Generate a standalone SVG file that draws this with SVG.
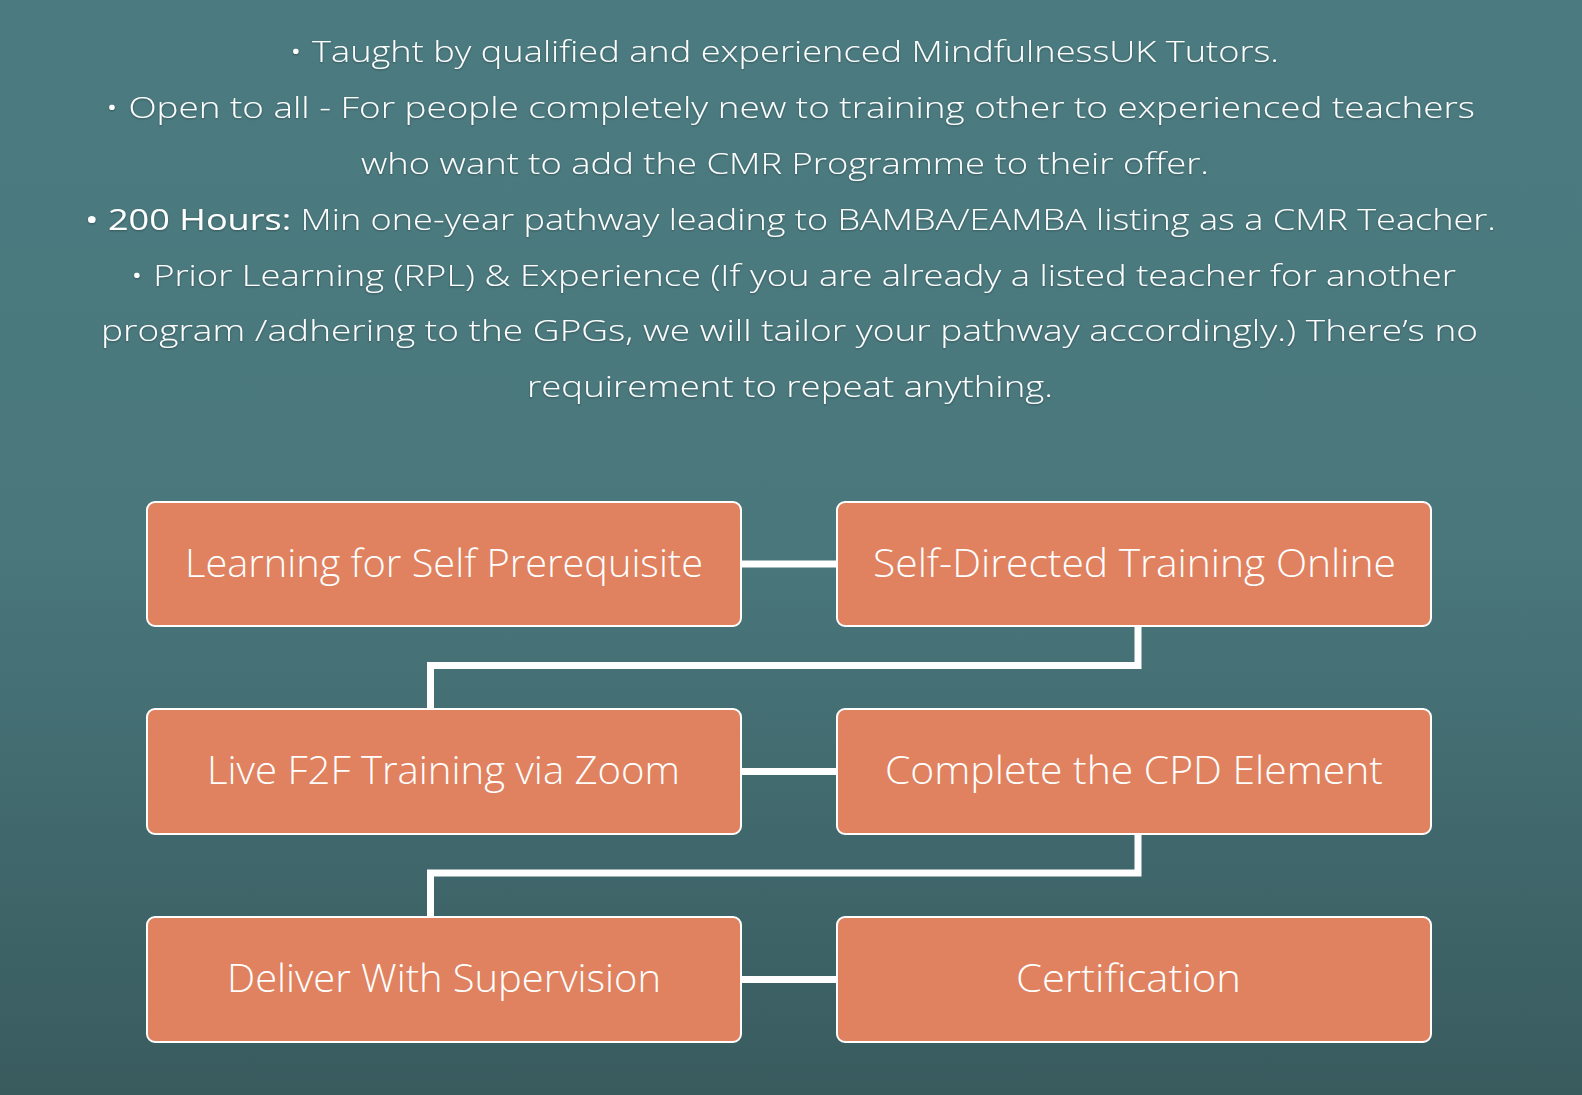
<svg xmlns="http://www.w3.org/2000/svg" width="1582" height="1095" viewBox="0 0 1582 1095">
<defs>
<linearGradient id="bg" x1="0" y1="0" x2="0" y2="1">
<stop offset="0" stop-color="#4b7b80"/>
<stop offset="0.5" stop-color="#49777c"/>
<stop offset="0.8" stop-color="#3f666a"/>
<stop offset="1" stop-color="#395b5e"/>
</linearGradient>
<filter id="sh" x="-5%" y="-30%" width="110%" height="160%">
<feDropShadow dx="0" dy="1" stdDeviation="1" flood-color="#000" flood-opacity="0.3"/>
</filter>
</defs>
<style>
.intro{font-family:"Open Sans","Noto Sans","Liberation Sans",sans-serif;font-size:30px;font-weight:300;fill:#ffffff;filter:url(#sh)}
.b{font-weight:400}
.box{fill:#e0825f;stroke:#ffffff;stroke-width:2}
.lbl{font-family:"Open Sans","Noto Sans","Liberation Sans",sans-serif;font-size:38px;font-weight:300;fill:#ffffff}
.con{fill:none;stroke:#ffffff;stroke-width:7;stroke-linejoin:miter}
</style>
<rect x="0" y="0" width="1582" height="1095" fill="url(#bg)"/>
<g id="intro">
<text class="intro" x="289" y="62" textLength="990" lengthAdjust="spacingAndGlyphs">• Taught by qualified and experienced MindfulnessUK Tutors.</text>
<text class="intro" x="105" y="118" textLength="1370" lengthAdjust="spacingAndGlyphs">• Open to all - For people completely new to training other to experienced teachers</text>
<text class="intro" x="361" y="174" textLength="848" lengthAdjust="spacingAndGlyphs">who want to add the CMR Programme to their offer.</text>
<text class="intro" x="85" y="230" textLength="1411" lengthAdjust="spacingAndGlyphs"><tspan class="b">• 200 Hours:</tspan> Min one-year pathway leading to BAMBA/EAMBA listing as a CMR Teacher.</text>
<text class="intro" x="130" y="286" textLength="1326" lengthAdjust="spacingAndGlyphs">• Prior Learning (RPL) &amp; Experience (If you are already a listed teacher for another</text>
<text class="intro" x="101" y="341" textLength="1377" lengthAdjust="spacingAndGlyphs">program /adhering to the GPGs, we will tailor your pathway accordingly.) There’s no</text>
<text class="intro" x="527" y="397" textLength="526" lengthAdjust="spacingAndGlyphs">requirement to repeat anything.</text>
</g>
<g id="connectors">
<line class="con" x1="741" y1="564" x2="837" y2="564"/>
<polyline class="con" points="1138,626 1138,665.5 430.5,665.5 430.5,709"/>
<line class="con" x1="741" y1="771.5" x2="837" y2="771.5"/>
<polyline class="con" points="1138,834 1138,873 430.5,873 430.5,917"/>
<line class="con" x1="741" y1="979.5" x2="837" y2="979.5"/>
</g>
<g id="n1">
<rect class="box" x="147" y="502" width="594" height="124" rx="8"/>
<text class="lbl" x="185" y="576.5" textLength="518" lengthAdjust="spacingAndGlyphs">Learning for Self Prerequisite</text>
</g>
<g id="n2">
<rect class="box" x="837" y="502" width="594" height="124" rx="8"/>
<text class="lbl" x="873" y="576.5" textLength="523" lengthAdjust="spacingAndGlyphs">Self-Directed Training Online</text>
</g>
<g id="n3">
<rect class="box" x="147" y="709" width="594" height="125" rx="8"/>
<text class="lbl" x="207" y="784" textLength="473" lengthAdjust="spacingAndGlyphs">Live F2F Training via Zoom</text>
</g>
<g id="n4">
<rect class="box" x="837" y="709" width="594" height="125" rx="8"/>
<text class="lbl" x="885" y="784" textLength="498" lengthAdjust="spacingAndGlyphs">Complete the CPD Element</text>
</g>
<g id="n5">
<rect class="box" x="147" y="917" width="594" height="125" rx="8"/>
<text class="lbl" x="227" y="992" textLength="434" lengthAdjust="spacingAndGlyphs">Deliver With Supervision</text>
</g>
<g id="n6">
<rect class="box" x="837" y="917" width="594" height="125" rx="8"/>
<text class="lbl" x="1016" y="992" textLength="225" lengthAdjust="spacingAndGlyphs">Certification</text>
</g>
</svg>
